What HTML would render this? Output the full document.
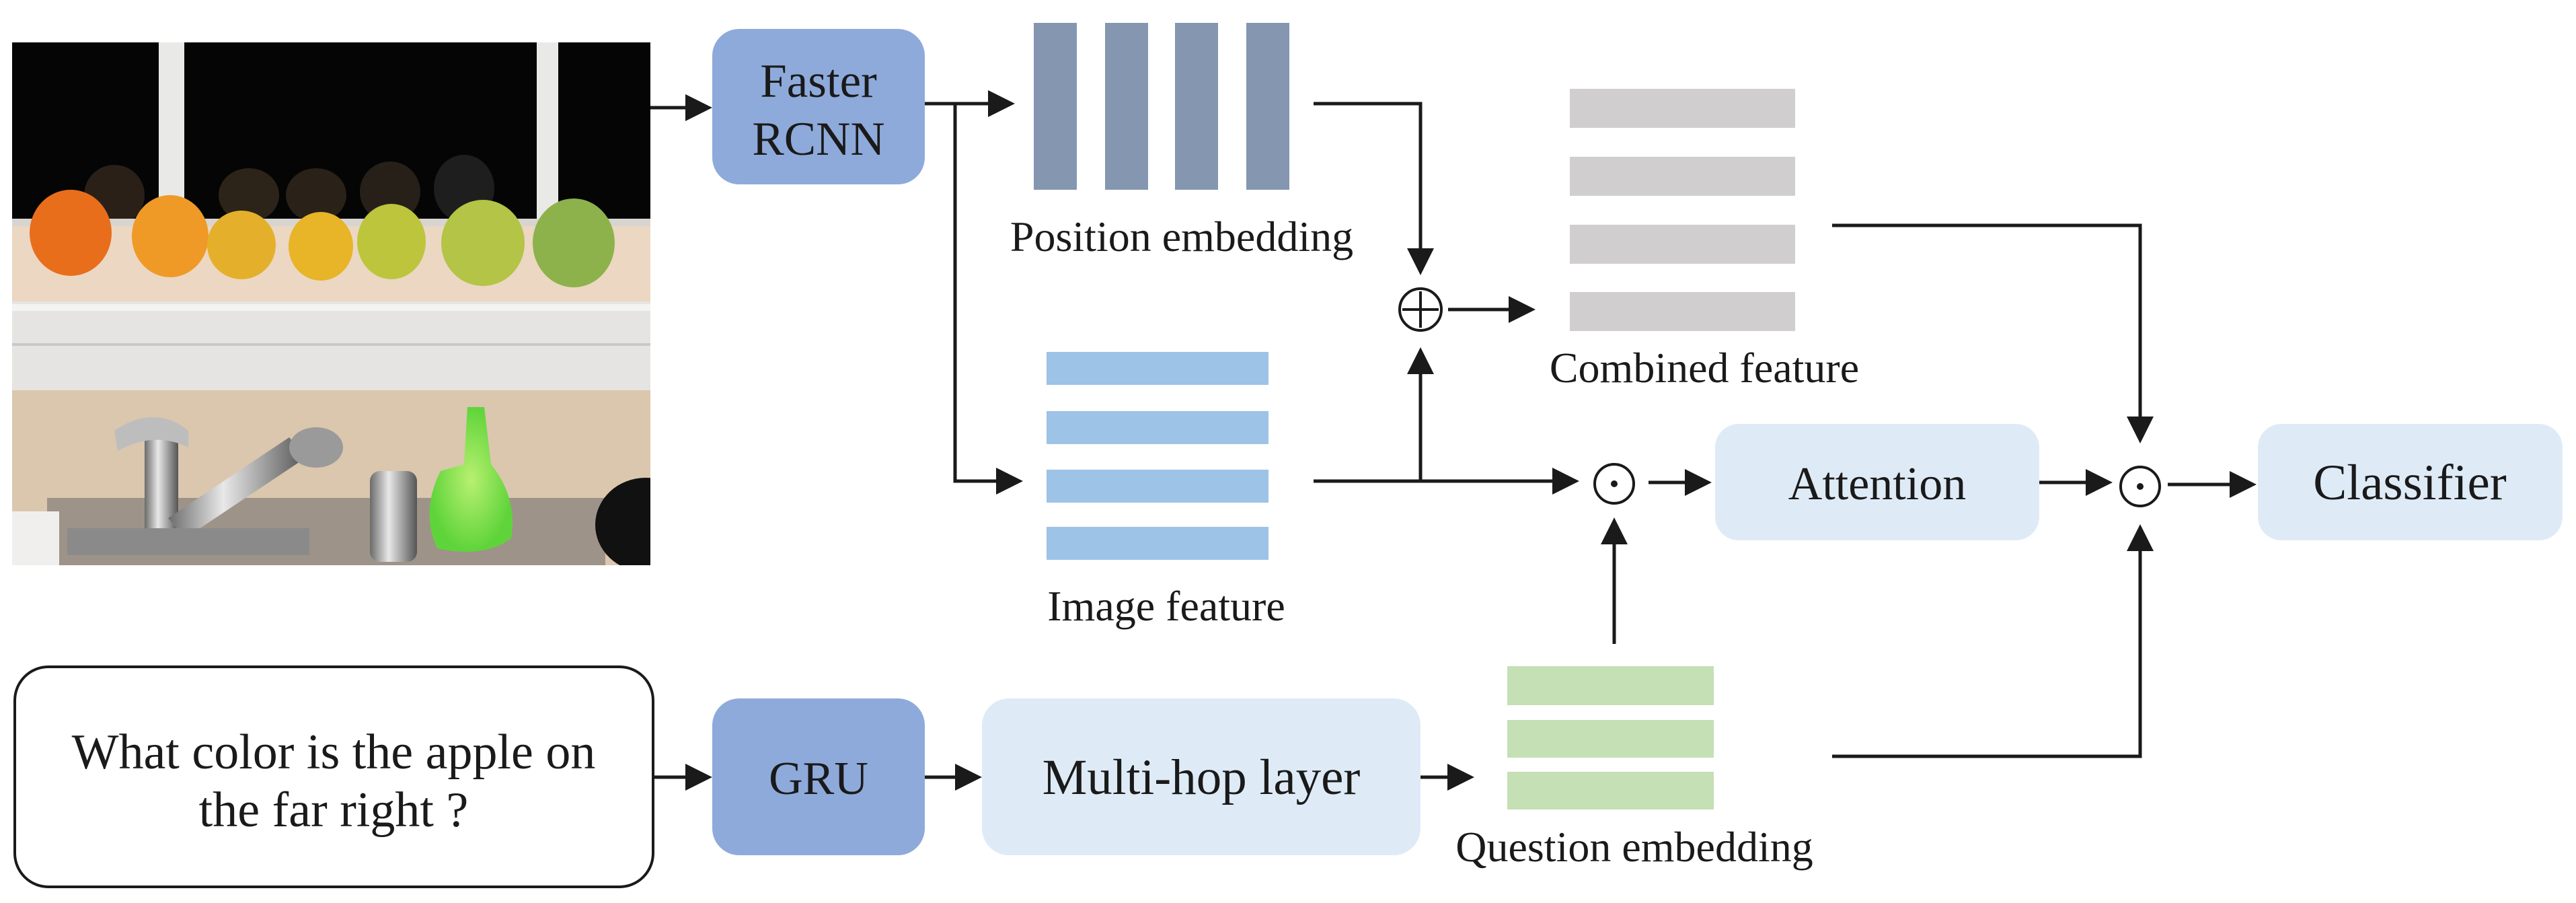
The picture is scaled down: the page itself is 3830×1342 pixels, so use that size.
<!DOCTYPE html>
<html><head><meta charset="utf-8"><style>
html,body{margin:0;padding:0;background:#fff;}
svg{display:block;}
text{font-family:"Liberation Serif",serif;fill:#1a1a1a;}
</style></head><body>
<svg width="3830" height="1342" viewBox="0 0 3830 1342" xmlns="http://www.w3.org/2000/svg">
<defs>
<marker id="a" markerWidth="8" markerHeight="8" refX="7" refY="4" orient="auto" markerUnits="strokeWidth"><path d="M0,0 L8,4 L0,8 z" fill="#1a1a1a"/></marker>
<linearGradient id="metal" x1="0" x2="1"><stop offset="0" stop-color="#6b6b6b"/><stop offset="0.4" stop-color="#e8e8e8"/><stop offset="1" stop-color="#555"/></linearGradient>
<radialGradient id="soap"><stop offset="0" stop-color="#b8f070"/><stop offset="1" stop-color="#5fd43a"/></radialGradient>
<clipPath id="pc"><rect x="18" y="63" width="949" height="777"/></clipPath>
</defs>
<!-- photo -->
<g clip-path="url(#pc)">
<rect x="18" y="63" width="949" height="777" fill="#dcc7b0"/>
<rect x="18" y="63" width="949" height="275" fill="#050505"/>
<rect x="236" y="63" width="38" height="275" fill="#e9e9e7"/>
<rect x="798" y="63" width="32" height="275" fill="#e9e9e7"/>
<ellipse cx="170" cy="290" rx="45" ry="45" fill="#2a2018"/>
<ellipse cx="370" cy="290" rx="45" ry="40" fill="#2c2418"/>
<ellipse cx="470" cy="290" rx="45" ry="40" fill="#2a2218"/>
<ellipse cx="580" cy="285" rx="45" ry="45" fill="#262018"/>
<ellipse cx="690" cy="280" rx="45" ry="50" fill="#1e1e1e"/>
<rect x="18" y="325" width="949" height="15" fill="#d8d5d0"/>
<rect x="18" y="336" width="949" height="112" fill="#ecd7c2"/>
<rect x="18" y="448" width="949" height="132" fill="#e5e4e2"/>
<rect x="18" y="452" width="949" height="10" fill="#f4f4f2"/>
<rect x="18" y="510" width="949" height="4" fill="#c8c8c6"/>
<rect x="18" y="580" width="949" height="260" fill="#dbc6ae"/>
<rect x="70" y="740" width="830" height="100" fill="#9e9388"/>
<ellipse cx="105" cy="346" rx="61" ry="64" fill="#e86e1c"/>
<ellipse cx="253" cy="351" rx="57" ry="61" fill="#ef9a26"/>
<ellipse cx="359" cy="364" rx="51" ry="51" fill="#e4b02b"/>
<ellipse cx="477" cy="366" rx="48" ry="51" fill="#e8b428"/>
<ellipse cx="582" cy="359" rx="51" ry="56" fill="#bcc53c"/>
<ellipse cx="718" cy="361" rx="62" ry="64" fill="#b3c446"/>
<ellipse cx="853" cy="361" rx="61" ry="66" fill="#8db24c"/>
<rect x="215" y="640" width="50" height="180" fill="url(#metal)"/>
<path d="M170,640 Q230,600 280,640 L280,665 Q230,640 175,670 z" fill="#bdbdbd"/>
<path d="M250,770 L430,650 L455,680 L275,800 z" fill="url(#metal)"/>
<ellipse cx="470" cy="665" rx="40" ry="30" fill="#9a9a9a"/>
<rect x="100" y="785" width="360" height="40" fill="#8a8a8a"/>
<rect x="550" y="700" width="70" height="135" rx="15" fill="url(#metal)"/>
<path d="M695,605 L720,605 L730,690 Q770,740 760,800 Q720,830 650,815 Q625,760 655,700 L690,690 z" fill="url(#soap)"/>
<ellipse cx="960" cy="780" rx="75" ry="70" fill="#111"/>
<rect x="18" y="760" width="70" height="80" fill="#f0efee"/>
</g>
<!-- boxes -->
<rect x="1059" y="43" width="316" height="231" rx="40" fill="#8eaadb"/>
<text x="1217" y="144" font-size="71" text-anchor="middle">Faster</text>
<text x="1217" y="230" font-size="71" text-anchor="middle">RCNN</text>
<rect x="1059" y="1038" width="316" height="233" rx="40" fill="#8eaadb"/>
<text x="1217" y="1180" font-size="70" text-anchor="middle">GRU</text>
<rect x="1460" y="1038" width="652" height="233" rx="40" fill="#deebf7"/>
<text x="1786" y="1180" font-size="75" text-anchor="middle">Multi-hop layer</text>
<rect x="2550" y="630" width="482" height="173" rx="35" fill="#deebf7"/>
<text x="2791" y="742" font-size="70" text-anchor="middle">Attention</text>
<rect x="3357" y="630" width="453" height="173" rx="35" fill="#deebf7"/>
<text x="3583" y="742" font-size="75" text-anchor="middle">Classifier</text>
<rect x="22" y="991" width="949" height="327" rx="50" fill="#fff" stroke="#1a1a1a" stroke-width="4"/>
<text x="496" y="1142" font-size="74" text-anchor="middle">What color is the apple on</text>
<text x="496" y="1228" font-size="74" text-anchor="middle">the far right ?</text>
<!-- position bars -->
<g fill="#8496b0">
<rect x="1537" y="34" width="64" height="248"/><rect x="1643" y="34" width="64" height="248"/>
<rect x="1747" y="34" width="64" height="248"/><rect x="1853" y="34" width="64" height="248"/>
</g>
<text x="1757" y="373" font-size="64" text-anchor="middle">Position embedding</text>
<g fill="#9dc3e6">
<rect x="1556" y="523" width="330" height="49"/><rect x="1556" y="611" width="330" height="49"/>
<rect x="1556" y="698" width="330" height="49"/><rect x="1556" y="783" width="330" height="49"/>
</g>
<text x="1734" y="922" font-size="64" text-anchor="middle">Image feature</text>
<g fill="#d0cece">
<rect x="2334" y="132" width="335" height="58"/><rect x="2334" y="233" width="335" height="58"/>
<rect x="2334" y="334" width="335" height="58"/><rect x="2334" y="434" width="335" height="58"/>
</g>
<text x="2534" y="568" font-size="64" text-anchor="middle">Combined feature</text>
<g fill="#c5e0b4">
<rect x="2241" y="990" width="307" height="58"/><rect x="2241" y="1070" width="307" height="56"/>
<rect x="2241" y="1147" width="307" height="56"/>
</g>
<text x="2430" y="1280" font-size="64" text-anchor="middle">Question embedding</text>
<!-- operators -->
<g fill="none" stroke="#1a1a1a" stroke-width="4">
<circle cx="2112" cy="460" r="31"/><path d="M2085,460 H2139 M2112,433 V487"/>
<circle cx="2400" cy="719" r="29"/>
<circle cx="3182" cy="723" r="29"/>
</g>
<circle cx="2400" cy="719" r="5" fill="#1a1a1a"/>
<circle cx="3182" cy="723" r="5" fill="#1a1a1a"/>
<!-- connectors -->
<g fill="none" stroke="#1a1a1a" stroke-width="5" marker-end="url(#a)">
<path d="M967,160 H1054"/>
<path d="M1375,154 H1504"/>
<path d="M1420,154 V715 H1516"/>
<path d="M1953,154 H2112 V404"/>
<path d="M2153,460 H2278"/>
<path d="M1953,715 H2343"/>
<path d="M2112,715 V521"/>
<path d="M2451,717 H2540"/>
<path d="M2400,957 V774"/>
<path d="M3032,717 H3136"/>
<path d="M3223,720 H3350"/>
<path d="M2724,335 H3182 V654"/>
<path d="M2724,1124 H3182 V784"/>
<path d="M971,1155 H1054"/>
<path d="M1375,1155 H1455"/>
<path d="M2112,1155 H2187"/>
</g>
</svg>
</body></html>
